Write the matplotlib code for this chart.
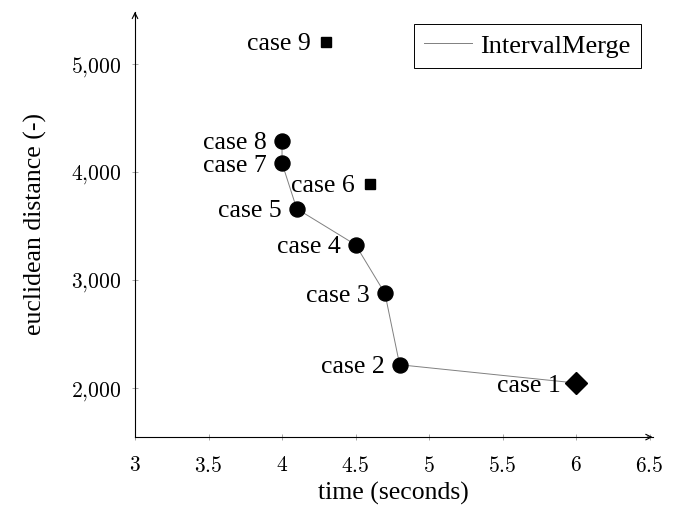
import numpy as np
import matplotlib
matplotlib.use("Agg")
from matplotlib import pyplot as plt
from matplotlib.ticker import FuncFormatter

# data
cases = ["case 1", "case 2", "case 3", "case 4", "case 5", "case 6", "case 7", "case 8", "case 9"]
time_s = [6.0, 4.8, 4.7, 4.5, 4.1, 4.6, 4.0, 4.0, 4.3]
dist = [2046, 2215, 2875, 3325, 3658, 3890, 4080, 4285, 5205]
markers = ["D", "o", "o", "o", "o", "s", "o", "o", "s"]
# cases joined by the IntervalMerge line
line_idx = [0, 1, 2, 3, 4, 6, 7]

xticks = [3, 3.5, 4, 4.5, 5, 5.5, 6, 6.5]
yticks = [2000, 3000, 4000, 5000]

plt.rcParams["font.family"] = ["Liberation Serif", "DejaVu Serif"]
plt.rcParams["mathtext.fontset"] = "cm"

fig = plt.figure(figsize=(6.73, 5.13), dpi=100)
ax = fig.add_axes([0.2006, 0.148, 0.769, 0.829])

ax.plot([time_s[i] for i in line_idx], [dist[i] for i in line_idx],
        color="0.5", lw=0.7, label="IntervalMerge", zorder=2)

msize = {"o": 10.8, "s": 7.2, "D": 11.5}
for x, y, m, name in zip(time_s, dist, markers, cases):
    ax.plot(x, y, marker=m, ms=msize[m], color="black", ls="none", zorder=3)
    ax.annotate(name, (x, y), xytext=(-11, 0), textcoords="offset points",
                ha="right", va="center_baseline", fontsize=18.5)

ax.set_xlim(3, 6.52)
ax.set_ylim(1546, 5480)
ax.set_xticks(xticks)
ax.set_yticks(yticks)
ax.xaxis.set_major_formatter(FuncFormatter(lambda v, p: "$%g$" % v))
ax.yaxis.set_major_formatter(FuncFormatter(lambda v, p: "$" + format(int(v), ",").replace(",", "{,}") + "$"))
ax.tick_params(direction="inout", length=4, width=0.6, color="0.6", labelsize=15.5, pad=8)
ax.tick_params(axis="x", pad=12)

ax.spines["top"].set_visible(False)
ax.spines["right"].set_visible(False)
for s in ["left", "bottom"]:
    ax.spines[s].set_linewidth(0.8)
ax.annotate("", xy=(1.0, 0), xytext=(0.99, 0), xycoords="axes fraction",
            arrowprops=dict(arrowstyle="->", lw=0.8, color="black", shrinkA=0, shrinkB=0))
ax.annotate("", xy=(0, 1.0), xytext=(0, 0.99), xycoords="axes fraction",
            arrowprops=dict(arrowstyle="->", lw=0.8, color="black", shrinkA=0, shrinkB=0))

ax.set_xlabel("time (seconds)", fontsize=18.5, labelpad=4)
ax.set_ylabel("euclidean distance (-)", fontsize=18.5, labelpad=17)

leg = ax.legend(loc="upper right", fontsize=19, fancybox=False, framealpha=1,
                edgecolor="black", borderaxespad=0.45, handlelength=1.8,
                handletextpad=0.3, borderpad=0.4)
leg.get_frame().set_linewidth(0.7)

fig.savefig("out.png", dpi=100)
